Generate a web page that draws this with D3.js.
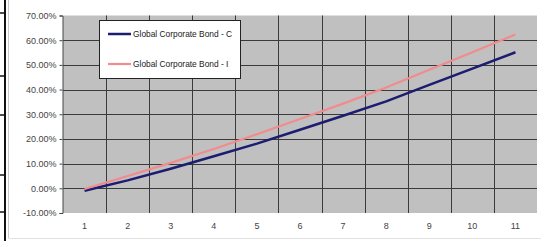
<!DOCTYPE html>
<html lang="en">
<head>
<meta charset="UTF-8">
<title>Global Corporate Bond</title>
<script src="https://d3js.org/d3.v7.min.js"></script>
<style>
  body { margin: 0; background: #fff; }
  svg { display: block; font-family: "Liberation Sans", Arial, sans-serif; }
</style>
</head>
<body>
<svg width="544" height="241"></svg>
<script>
// data
const periods = ["1", "2", "3", "4", "5", "6", "7", "8", "9", "10", "11"];
const bondC = [-1.0, 3.2, 7.9, 13.0, 18.1, 23.7, 29.4, 35.2, 41.9, 48.5, 55.1];
const bondI = [-0.3, 5.0, 10.3, 15.9, 21.9, 28.1, 34.3, 40.8, 48.0, 55.1, 62.3];
const yTicks = [-10, 0, 10, 20, 30, 40, 50, 60, 70];
const seriesNames = ["Global Corporate Bond - C", "Global Corporate Bond - I"];
const seriesColors = ["#1c1c70", "#f28b8e"];

const svg = d3.select("svg");

// bits of the surrounding sheet on the left
svg.append("line").attr("x1", 5).attr("x2", 5).attr("y1", 0).attr("y2", 241)
  .attr("stroke", "#111").attr("stroke-width", 2);
[13, 76, 115, 175, 212].forEach(y => {
  svg.append("line").attr("x1", 0).attr("x2", 5).attr("y1", y).attr("y2", y)
    .attr("stroke", "#111").attr("stroke-width", 1.5);
});
svg.append("line").attr("x1", 8.5).attr("x2", 8.5).attr("y1", 0).attr("y2", 238)
  .attr("stroke", "#c8c8c8");
svg.append("line").attr("x1", 8.5).attr("x2", 541).attr("y1", 238.5).attr("y2", 238.5)
  .attr("stroke", "#e2e2e2");

const x = d3.scaleBand().domain(periods).range([63, 537]).padding(0);
const y = d3.scaleLinear().domain([-10, 70]).range([213, 15.5]);

// plot area
svg.append("rect")
  .attr("x", x.range()[0]).attr("y", y(70))
  .attr("width", x.range()[1] - x.range()[0]).attr("height", y(-10) - y(70))
  .attr("fill", "#c0c0c0");

// horizontal grid
svg.append("g").selectAll("line")
  .data(yTicks.filter(d => d > -10 && d < 70))
  .join("line")
  .attr("x1", x.range()[0]).attr("x2", x.range()[1])
  .attr("y1", d => Math.round(y(d)) + 0.5).attr("y2", d => Math.round(y(d)) + 0.5)
  .attr("stroke", "#3a3a3a");

// vertical grid at category boundaries
svg.append("g").selectAll("line")
  .data(periods.slice(1))
  .join("line")
  .attr("x1", d => Math.round(x(d)) + 0.5).attr("x2", d => Math.round(x(d)) + 0.5)
  .attr("y1", y(70)).attr("y2", y(-10))
  .attr("stroke", "#3a3a3a");

// y axis
const yAxis = d3.axisLeft(y).tickValues(yTicks).tickSize(3).tickPadding(3)
  .tickFormat(d => d.toFixed(2) + "%");
const yg = svg.append("g").attr("transform", "translate(62.5,0)").call(yAxis);
yg.select(".domain").attr("stroke", "#444");
yg.selectAll(".tick line").attr("stroke", "#444");
yg.selectAll("text").attr("font-size", 9).attr("fill", "#444")
  .attr("font-family", "Liberation Sans, Arial, sans-serif");

// x axis labels
const xAxis = d3.axisBottom(x).tickSize(0).tickPadding(10);
const xg = svg.append("g").attr("transform", "translate(0," + y(-10) + ")").call(xAxis);
xg.select(".domain").remove();
xg.selectAll("text").attr("font-size", 9).attr("fill", "#444")
  .attr("font-family", "Liberation Sans, Arial, sans-serif");

// lines
const line = d3.line()
  .x((d, i) => x(periods[i]) + x.bandwidth() / 2)
  .y(d => y(d));

[bondC, bondI].forEach((s, i) => {
  svg.append("path")
    .attr("d", line(s))
    .attr("fill", "none")
    .attr("stroke", seriesColors[i])
    .attr("stroke-width", i === 0 ? 2.5 : 2.2);
});

// legend
const lg = svg.append("g");
lg.append("rect").attr("x", 99.5).attr("y", 20.5).attr("width", 141).attr("height", 58)
  .attr("fill", "#fff").attr("stroke", "#222");
seriesNames.forEach((name, i) => {
  const ly = 34 + i * 30;
  lg.append("line").attr("x1", 108).attr("x2", 131).attr("y1", ly).attr("y2", ly)
    .attr("stroke", seriesColors[i]).attr("stroke-width", i === 0 ? 2.5 : 2.2);
  lg.append("text").attr("x", 133).attr("y", ly + 3).attr("font-size", 8.4)
    .attr("fill", "#222").text(name);
});
</script>
</body>
</html>
